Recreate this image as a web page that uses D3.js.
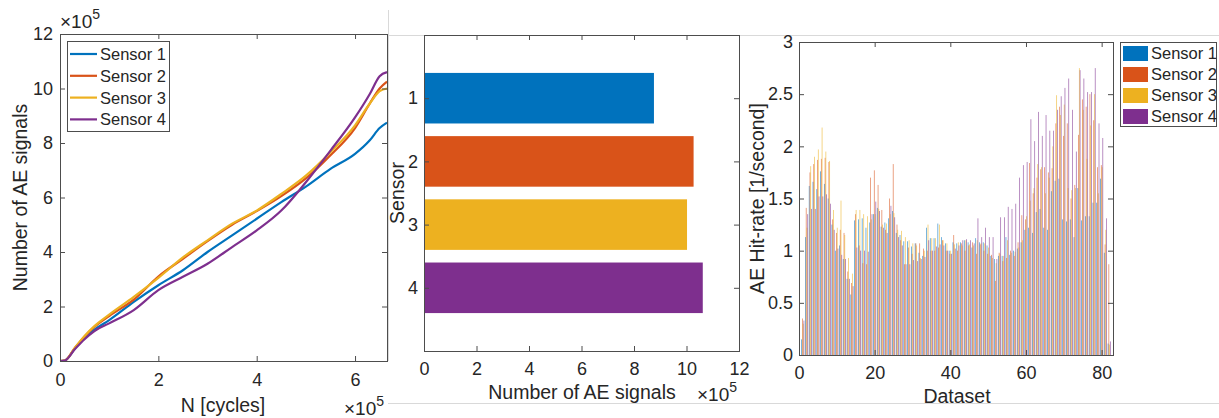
<!DOCTYPE html>
<html>
<head>
<meta charset="utf-8">
<script src="https://cdn.jsdelivr.net/npm/d3@7"></script>
<style>
  body { margin: 0; background: #fff; }
  svg { font-family: "Liberation Sans", Arial, sans-serif; display: block; }
</style>
</head>
<body>
<svg id="chart" width="1219" height="418"></svg>
<script>
// Data ----------
const sensors = ["Sensor 1", "Sensor 2", "Sensor 3", "Sensor 4"];
const colors = ["#0072BD", "#D95319", "#EDB120", "#7E2F8E"];

// cumulative AE signals vs cycles (both x 1e5)
const cycles = [0, 0.1, 0.3, 0.5, 0.7, 1.0, 1.5, 2.0, 2.5, 3.0, 3.5, 4.0, 4.5, 5.0, 5.5, 6.0, 6.3, 6.5, 6.65];
const cum1 = [0, 0.02, 0.45, 0.85, 1.15, 1.5, 2.17, 2.78, 3.33, 4.0, 4.61, 5.22, 5.83, 6.4, 7.05, 7.6, 8.1, 8.55, 8.75];
const cum2 = [0, 0.02, 0.47, 0.9, 1.25, 1.65, 2.25, 3.1, 3.75, 4.4, 5.0, 5.5, 6.05, 6.7, 7.55, 8.55, 9.45, 10.0, 10.25];
const cum3 = [0, 0.02, 0.48, 0.92, 1.28, 1.7, 2.35, 3.05, 3.8, 4.43, 5.04, 5.52, 6.13, 6.8, 7.66, 8.65, 9.45, 9.9, 10.0];
const cum4 = [0, 0.02, 0.43, 0.8, 1.1, 1.38, 1.87, 2.6, 3.09, 3.57, 4.18, 4.79, 5.52, 6.56, 7.72, 8.94, 9.8, 10.45, 10.6];

// total AE signals per sensor (x 1e5)
const totals = [8.76, 10.27, 10.02, 10.62];

// hit rate per dataset (1/second), datasets 1..82
const hit1 = [0.15, 1.13, 1.62, 1.66, 1.59, 1.76, 1.64, 1.5, 1.25, 1.0, 1.05, 0.92, 0.73, 0.58, 1.29, 1.3, 1.31, 1.22, 1.27, 1.35,
  1.41, 1.23, 1.27, 1.31, 1.38, 1.17, 1.15, 1.09, 1.09, 1.04, 1.07, 0.98, 0.95, 1.22, 1.12, 1.12, 1.26, 1.13, 1.07, 1.0,
  1.08, 1.07, 1.08, 1.1, 1.08, 1.03, 1.12, 1.08, 1.08, 1.05, 0.95, 0.92, 0.95, 0.95, 1.13, 0.96, 1.0, 1.02, 1.08, 1.2,
  1.22, 1.17, 1.37, 1.4, 1.22, 1.2, 1.57, 1.67, 1.69, 1.3, 1.28, 1.3, 1.13, 1.6, 1.29, 1.33, 1.33, 1.46, 1.46, 1.69,
  0.98, 0.11];
const hit2 = [0.35, 1.41, 1.75, 1.83, 1.87, 1.88, 1.89, 1.85, 1.3, 1.17, 1.2, 1.17, 0.8, 0.69, 1.35, 1.05, 0.88, 0.87, 1.7, 1.77,
  1.63, 1.39, 1.2, 1.5, 1.83, 1.25, 1.1, 0.87, 1.03, 0.97, 1.07, 1.07, 1.02, 1.0, 1.0, 1.0, 1.03, 1.1, 1.0, 0.97,
  1.15, 1.0, 1.07, 1.0, 1.05, 1.08, 0.97, 1.06, 1.0, 0.97, 0.96, 0.71, 0.98, 0.9, 0.93, 1.0, 0.95, 1.08, 1.34, 1.3,
  1.84, 1.55, 1.7, 1.78, 1.8, 1.75, 1.79, 2.22, 2.38, 2.1, 2.22, 1.5, 1.63, 2.11, 2.45, 2.38, 2.5, 2.25, 1.8, 1.82,
  1.06, 0.87];
const hit3 = [0.3, 1.22, 1.81, 1.9, 1.97, 2.18, 1.95, 1.86, 1.39, 1.22, 1.48, 1.15, 0.93, 0.78, 1.39, 1.39, 1.35, 1.33, 1.3, 1.35,
  1.4, 1.25, 1.26, 1.35, 1.36, 1.2, 1.19, 1.13, 1.1, 1.07, 1.05, 0.93, 1.0, 1.25, 1.12, 1.12, 1.25, 1.1, 1.07, 1.0,
  1.06, 1.08, 1.05, 1.1, 1.06, 1.05, 1.1, 1.07, 1.07, 1.03, 0.93, 0.88, 0.97, 0.95, 1.1, 0.98, 0.99, 1.03, 1.1, 1.33,
  1.48, 1.6, 1.83, 1.8, 1.55, 1.7, 2.0, 2.49, 2.3, 2.4, 1.6, 1.58, 1.6, 2.75, 2.35, 1.88, 2.2, 2.5, 1.55, 1.8,
  1.2, 0.1];
const hit4 = [0.33, 1.35, 1.4, 1.4, 1.52, 1.52, 1.54, 1.45, 1.2, 1.02, 0.96, 0.92, 0.73, 0.66, 1.03, 1.0, 1.0, 0.99, 1.35, 1.47,
  1.38, 1.22, 1.17, 1.43, 1.32, 1.13, 1.05, 0.87, 0.87, 0.91, 0.9, 0.92, 0.94, 1.1, 1.0, 1.04, 1.06, 1.05, 1.0, 0.97,
  1.02, 1.05, 1.1, 1.11, 1.1, 1.07, 1.31, 1.13, 1.22, 1.13, 1.13, 0.92, 1.32, 1.32, 1.42, 1.4, 1.45, 1.7, 1.82, 1.85,
  2.26, 2.05, 2.33, 2.1, 2.3, 2.15, 2.15, 2.35, 2.48, 2.56, 2.65, 2.35, 1.95, 2.73, 2.65, 2.52, 2.52, 2.75, 2.22, 2.08,
  1.31, 0.13];

// Tick labels ----------
const cumXTicks = [0, 2, 4, 6];
const cumYTicks = [0, 2, 4, 6, 8, 10, 12];
const totXTicks = [0, 2, 4, 6, 8, 10, 12];
const totYTicks = [1, 2, 3, 4];
const hitXTicks = [0, 20, 40, 60, 80];
const hitYTicks = [0, 0.5, 1, 1.5, 2, 2.5, 3];

const cumSeries = [cum1, cum2, cum3, cum4];
const hitSeries = [hit1, hit2, hit3, hit4];

const ink = "#262626";
const axisStroke = "#4d4d4d";
const tickFont = 18;
const labelFont = 19.5;

const svg = d3.select("#chart");

// Separator lines between the pasted figures ----------
const sep = svg.append("g").attr("stroke", "#d9d9d9").attr("stroke-width", 1);
sep.append("line").attr("x1", 388.5).attr("x2", 388.5).attr("y1", 10).attr("y2", 361);
sep.append("line").attr("x1", 388).attr("x2", 1219).attr("y1", 35.5).attr("y2", 35.5);
sep.append("line").attr("x1", 388).attr("x2", 1219).attr("y1", 403.5).attr("y2", 403.5);

// Box axes helper (MATLAB style: inward ticks on all sides) ----------
function boxAxes(g, x, y, xt, yt, xPad, yPad) {
    const [x0, x1] = x.range();
    const [y0, y1] = y.range();
    const top = Math.min(y0, y1), bottom = Math.max(y0, y1);

    g.append("g")
        .attr("transform", `translate(0,${bottom})`)
        .call(d3.axisBottom(x).tickValues(xt).tickSize(-5).tickSizeOuter(0).tickPadding(xPad).tickFormat(d3.format("~g")));
    g.append("g")
        .attr("transform", `translate(0,${top})`)
        .call(d3.axisTop(x).tickValues(xt).tickSize(-5).tickSizeOuter(0).tickFormat(""));
    g.append("g")
        .attr("transform", `translate(${x0},0)`)
        .call(d3.axisLeft(y).tickValues(yt).tickSize(-5).tickSizeOuter(0).tickPadding(yPad).tickFormat(d3.format("~g")));
    g.append("g")
        .attr("transform", `translate(${x1},0)`)
        .call(d3.axisRight(y).tickValues(yt).tickSize(-5).tickSizeOuter(0).tickFormat(""));

    g.selectAll(".domain").remove();
    g.selectAll(".tick line").attr("stroke", axisStroke);
    g.selectAll(".tick text").attr("fill", ink).style("font-size", tickFont + "px");

    g.append("rect")
        .attr("x", x0 + 0.5).attr("y", top + 0.5)
        .attr("width", x1 - x0).attr("height", bottom - top)
        .attr("fill", "none").attr("stroke", axisStroke).attr("stroke-width", 1);
}

function expLabel(g, xPos, yPos) {
    const t = g.append("text").attr("x", xPos).attr("y", yPos)
        .attr("fill", ink).style("font-size", "19px");
    t.append("tspan").text("\u00d710");
    t.append("tspan").attr("dy", -9).style("font-size", "14px").text("5");
}

// Panel 1: cumulative AE signals ----------
const p1 = svg.append("g");
const x1 = d3.scaleLinear().domain([0, 6.65]).range([60, 387]);
const y1 = d3.scaleLinear().domain([0, 12]).range([361, 34]);

const line = d3.line()
    .x((d, i) => x1(cycles[i]))
    .y(d => y1(d))
    .curve(d3.curveMonotoneX);

p1.selectAll(".cum")
    .data(cumSeries)
    .enter()
    .append("path")
    .attr("d", d => line(d))
    .attr("fill", "none")
    .attr("stroke", (d, i) => colors[i])
    .attr("stroke-width", 2.2);

boxAxes(p1, x1, y1, cumXTicks, cumYTicks, 12, 7);

p1.append("text")
    .attr("transform", `translate(27,${y1(6)}) rotate(-90)`)
    .attr("text-anchor", "middle")
    .attr("fill", ink).style("font-size", labelFont + "px")
    .text("Number of AE signals");
p1.append("text")
    .attr("x", 223).attr("y", 412)
    .attr("text-anchor", "middle")
    .attr("fill", ink).style("font-size", labelFont + "px")
    .text("N [cycles]");
expLabel(p1, 60, 28);
expLabel(p1, 344, 415);

// legend
const leg1 = p1.append("g");
leg1.append("rect").attr("x", 67.5).attr("y", 41.5).attr("width", 102).attr("height", 90)
    .attr("fill", "#fff").attr("stroke", axisStroke);
sensors.forEach((s, i) => {
    const yy = 54 + i * 21.8;
    leg1.append("line").attr("x1", 70).attr("x2", 97).attr("y1", yy).attr("y2", yy)
        .attr("stroke", colors[i]).attr("stroke-width", 2.2);
    leg1.append("text").attr("x", 100).attr("y", yy + 6)
        .attr("fill", ink).style("font-size", "16.5px").text(s);
});

// Panel 2: total AE signals per sensor ----------
const p2 = svg.append("g");
const x2 = d3.scaleLinear().domain([0, 12]).range([424, 739]);
const y2 = d3.scaleLinear().domain([0, 5]).range([35, 351]);
const barH = (y2(1) - y2(0)) * 0.8;

p2.selectAll(".tot")
    .data(totals)
    .enter()
    .append("rect")
    .attr("x", x2(0))
    .attr("y", (d, i) => y2(i + 1) - barH / 2)
    .attr("width", d => x2(d) - x2(0))
    .attr("height", barH)
    .attr("fill", (d, i) => colors[i]);

boxAxes(p2, x2, y2, totXTicks, totYTicks, 11, 6);

p2.append("text")
    .attr("transform", `translate(404,${y2(2.5)}) rotate(-90)`)
    .attr("text-anchor", "middle")
    .attr("fill", ink).style("font-size", labelFont + "px")
    .text("Sensor");
p2.append("text")
    .attr("x", 582).attr("y", 399)
    .attr("text-anchor", "middle")
    .attr("fill", ink).style("font-size", labelFont + "px")
    .text("Number of AE signals");
expLabel(p2, 697, 401);

// Panel 3: AE hit rate per dataset ----------
const p3 = svg.append("g");
const x3 = d3.scaleLinear().domain([0, 83]).range([799, 1113]);
const y3 = d3.scaleLinear().domain([0, 3]).range([355, 42]);
const unit = x3(1) - x3(0);
const bw = unit * 0.2;

hitSeries.forEach((vals, s) => {
    p3.append("g")
        .attr("fill", colors[s])
        .attr("fill-opacity", 0.7)
        .selectAll("rect")
        .data(vals)
        .enter()
        .append("rect")
        .attr("x", (d, i) => x3(i + 1 + (s - 1.5) * 0.2) - bw / 2)
        .attr("y", d => y3(d))
        .attr("width", bw)
        .attr("height", d => y3(0) - y3(d));
});

boxAxes(p3, x3, y3, hitXTicks, hitYTicks, 11, 6);

p3.append("text")
    .attr("transform", `translate(764,${y3(1.5)}) rotate(-90)`)
    .attr("text-anchor", "middle")
    .attr("fill", ink).style("font-size", labelFont + "px")
    .text("AE Hit-rate [1/second]");
p3.append("text")
    .attr("x", 957).attr("y", 403)
    .attr("text-anchor", "middle")
    .attr("fill", ink).style("font-size", labelFont + "px")
    .text("Dataset");

// legend
const leg3 = p3.append("g");
leg3.append("rect").attr("x", 1120.5).attr("y", 42.5).attr("width", 96).attr("height", 84)
    .attr("fill", "#fff").attr("stroke", axisStroke);
sensors.forEach((s, i) => {
    const yy = 53 + i * 21;
    leg3.append("rect").attr("x", 1123).attr("y", yy - 7).attr("width", 25).attr("height", 15)
        .attr("fill", colors[i]);
    leg3.append("text").attr("x", 1151).attr("y", yy + 6)
        .attr("fill", ink).style("font-size", "16.5px").text(s);
});
</script>
</body>
</html>
